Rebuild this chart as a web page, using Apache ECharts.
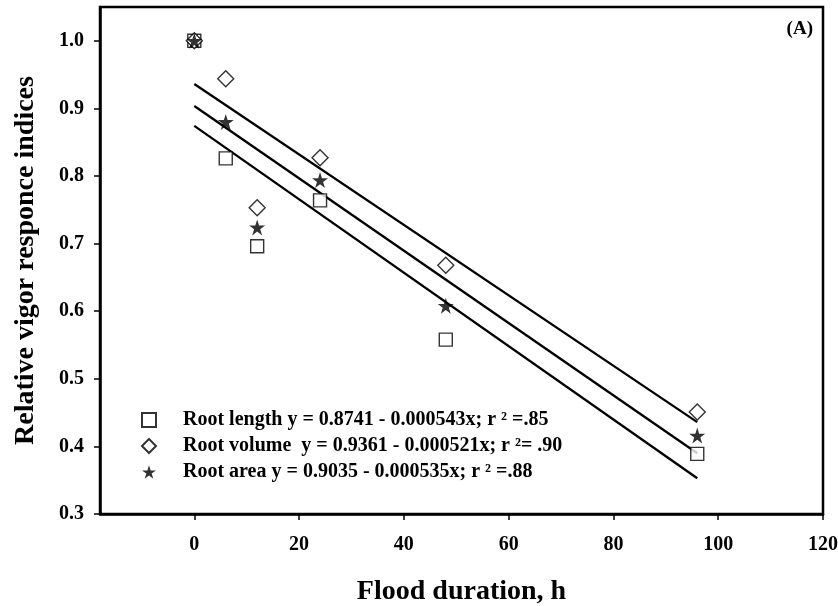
<!DOCTYPE html>
<html>
<head>
<meta charset="utf-8">
<title>Relative vigor response indices vs flood duration</title>
<script src="https://cdn.jsdelivr.net/npm/echarts@6/dist/echarts.min.js"></script>
<style>
  html, body { margin: 0; padding: 0; background: #fff; }
  #chart { width: 838px; height: 606px; }
</style>
</head>
<body>
<div id="chart"></div>
<script>
// Flood duration (h) at which each root trait was measured
var hours = [0, 6, 12, 24, 48, 96];

// Relative vigor response indices per trait
var rootLength = [1.0, 0.826, 0.696, 0.764, 0.558, 0.389];
var rootVolume = [1.0, 0.944, 0.753, 0.827, 0.668, 0.451];
var rootArea   = [1.0, 0.880, 0.724, 0.794, 0.608, 0.416];

// Linear fits: intercept and decline per hour, drawn over the measured span
var fitIntercepts = [0.8741, 0.9361, 0.9035];
var fitSlopes     = [0.00543, 0.00521, 0.00535];
var fitSpan       = [0, 96];

// Legend captions with the fitted equations
var seriesNames = ['Root length', 'Root volume', 'Root area'];
var captions = [
  'Root length y = 0.8741 - 0.000543x; r \u00b2 =.85',
  'Root volume  y = 0.9361 - 0.000521x; r \u00b2= .90',
  'Root area y = 0.9035 - 0.000535x; r \u00b2 =.88'
];

// Axis ticks
var xTicks = [0, 20, 40, 60, 80, 100, 120];
var yTicks = [0.3, 0.4, 0.5, 0.6, 0.7, 0.8, 0.9, 1.0];

var SERIF = '"Liberation Serif", "Times New Roman", serif';
var STAR = 'path://M50,0 L61.2,34.5 L97.6,34.5 L68.2,55.9 L79.4,90.5 L50,69.1 L20.6,90.5 L31.8,55.9 L2.4,34.5 L38.8,34.5 Z';

function pairs(xs, ys) {
  return xs.map(function (x, i) { return [x, ys[i]]; });
}
function fitLine(k) {
  return fitSpan.map(function (x) { return [x, fitIntercepts[k] - fitSlopes[k] * x]; });
}

var chart = echarts.init(document.getElementById('chart'), null, { renderer: 'canvas' });

var lineStyle = { color: '#000', width: 2.3 };

chart.setOption({
  animation: false,
  backgroundColor: '#fff',
  textStyle: { fontFamily: SERIF },
  title: {
    text: '(A)',
    right: 25,
    top: 20,
    padding: 0,
    textStyle: { fontFamily: SERIF, fontWeight: 'bold', fontSize: 19, color: '#000' }
  },
  grid: {
    left: 100, top: 7, right: 15, bottom: 92,
    outerBoundsMode: 'none',
    containLabel: false,
    show: true, borderColor: '#000', borderWidth: 2.5, backgroundColor: 'transparent'
  },
  legend: {
    orient: 'vertical',
    left: 141,
    top: 410,
    padding: 0,
    itemWidth: 14,
    itemHeight: 14,
    itemGap: 6,
    data: seriesNames,
    selectedMode: false,
    formatter: function (name) { return captions[seriesNames.indexOf(name)]; },
    textStyle: {
      fontFamily: SERIF, fontWeight: 'bold', fontSize: 20, color: '#000',
      padding: [0, 0, 0, 22]
    }
  },
  xAxis: {
    type: 'value',
    min: -18,
    max: 120,
    name: 'Flood duration, h',
    nameLocation: 'middle',
    nameGap: 64,
    nameTextStyle: { fontFamily: SERIF, fontWeight: 'bold', fontSize: 28, color: '#000' },
    splitLine: { show: false },
    axisLine: { show: true, onZero: false, lineStyle: { color: '#000', width: 2.5 } },
    axisTick: { show: true, customValues: xTicks, length: 6, lineStyle: { color: '#000', width: 1.5 } },
    axisLabel: {
      customValues: xTicks,
      margin: 21,
      fontFamily: SERIF, fontWeight: 'bold', fontSize: 20, color: '#000'
    }
  },
  yAxis: {
    type: 'value',
    min: 0.3,
    max: 1.05,
    name: 'Relative vigor responce indices',
    nameLocation: 'middle',
    nameGap: 60,
    nameTextStyle: { fontFamily: SERIF, fontWeight: 'bold', fontSize: 28, color: '#000' },
    splitLine: { show: false },
    axisLine: { show: true, onZero: false, lineStyle: { color: '#000', width: 2.5 } },
    axisTick: { show: true, customValues: yTicks, length: 6, lineStyle: { color: '#000', width: 1.5 } },
    axisLabel: {
      customValues: yTicks,
      margin: 16,
      formatter: function (v) { return v.toFixed(1); },
      fontFamily: SERIF, fontWeight: 'bold', fontSize: 20, color: '#000'
    }
  },
  series: [
    { type: 'line', data: fitLine(0), symbol: 'none', lineStyle: lineStyle, silent: true, z: 1 },
    { type: 'line', data: fitLine(1), symbol: 'none', lineStyle: lineStyle, silent: true, z: 1 },
    { type: 'line', data: fitLine(2), symbol: 'none', lineStyle: lineStyle, silent: true, z: 1 },
    {
      name: seriesNames[0], type: 'scatter', data: pairs(hours, rootLength),
      symbol: 'rect', symbolSize: 13, z: 3,
      itemStyle: { color: '#fff', borderColor: '#000', borderWidth: 1.4 }
    },
    {
      name: seriesNames[1], type: 'scatter', data: pairs(hours, rootVolume),
      symbol: 'diamond', symbolSize: [16, 16], z: 3,
      itemStyle: { color: '#fff', borderColor: '#000', borderWidth: 1.4 }
    },
    {
      name: seriesNames[2], type: 'scatter', data: pairs(hours, rootArea),
      symbol: STAR, symbolSize: 16, z: 4,
      itemStyle: { color: '#000', borderColor: '#000', borderWidth: 0 }
    }
  ]
});
</script>
</body>
</html>
